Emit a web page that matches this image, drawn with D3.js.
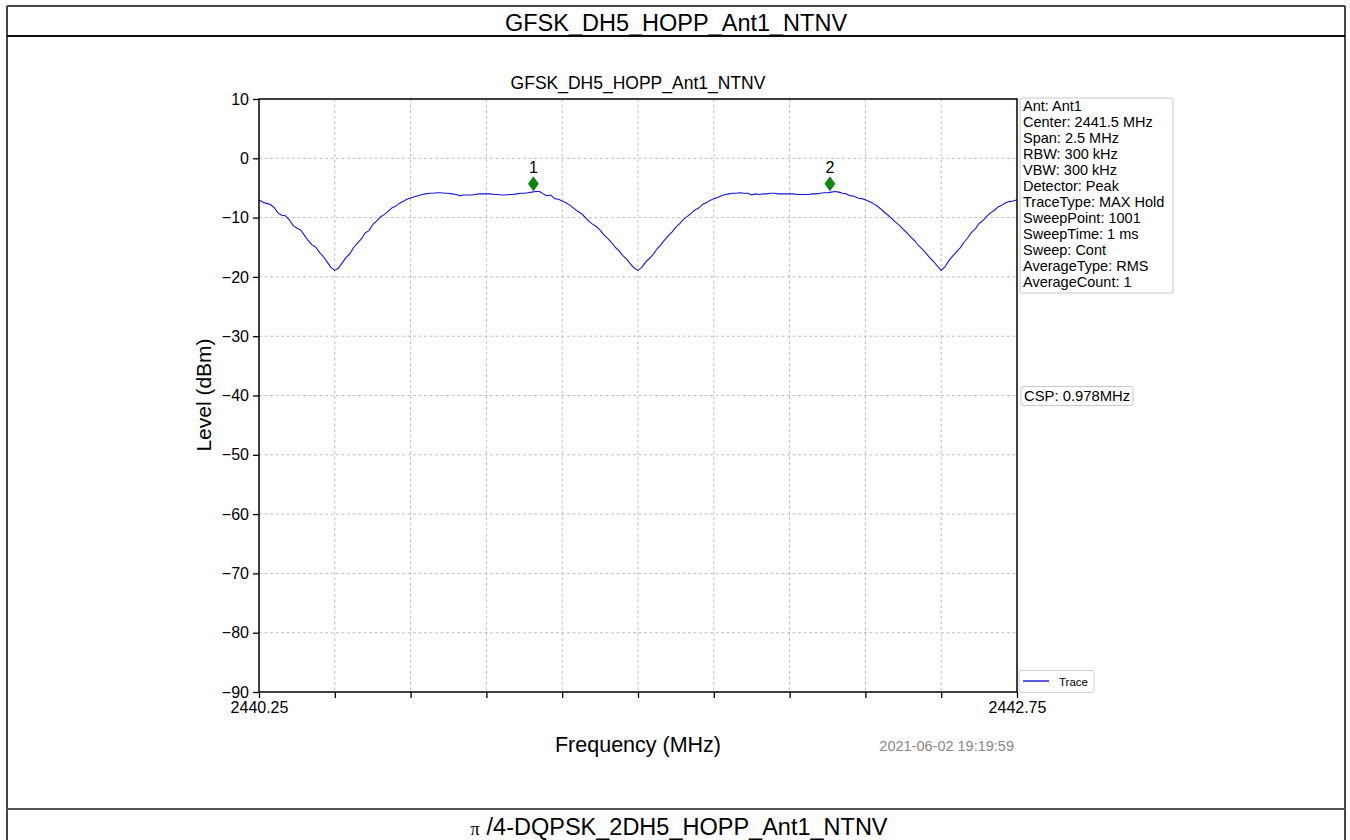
<!DOCTYPE html>
<html>
<head>
<meta charset="utf-8">
<script src="https://cdnjs.cloudflare.com/ajax/libs/d3/7.8.5/d3.min.js"></script>
<style>
  html, body { margin: 0; padding: 0; background: #fff; }
  svg { display: block; font-family: "Liberation Sans", Arial, sans-serif; }
</style>
</head>
<body>
<svg id="chart" width="1350" height="840"></svg>
<script>
// ---- data ----
const pageTitle = "GFSK_DH5_HOPP_Ant1_NTNV";
const nextTitlePrefix = "\u03C0";
const nextTitle = "/4-DQPSK_2DH5_HOPP_Ant1_NTNV";
const chartTitle = "GFSK_DH5_HOPP_Ant1_NTNV";
const freqStart = 2440.25;
const freqStep = 0.0125;
const traceLevels = [
  -7.0, -7.4, -7.6, -7.8, -8.3, -9.2, -9.6, -9.7, -10.4, -11.3,
  -11.8, -12.1, -13.0, -13.9, -14.6, -15.0, -15.9, -16.6, -17.5, -18.4,
  -18.9,
  -18.5, -17.6, -16.7, -16.1, -15.0, -14.3, -13.6, -12.6, -12.2, -11.2,
  -10.6, -9.9, -9.5, -9.0, -8.4, -8.1, -7.6, -7.3, -6.9, -6.7,
  -6.5, -6.3, -6.1, -6.0, -5.9, -5.9, -5.8, -5.8, -5.9, -5.9,
  -6.0, -6.1, -6.3, -6.2, -6.2, -6.2, -6.1, -6.0, -6.0, -6.0,
  -6.0, -6.1, -6.1, -6.2, -6.2, -6.1, -6.1, -6.0, -5.9, -5.9,
  -5.8, -5.7, -5.6, -5.6,
  -6.0, -6.3, -6.2, -6.8, -6.9, -7.2, -7.5, -7.9, -8.4, -8.9,
  -9.3, -9.9, -10.6, -11.1, -11.5, -12.1, -12.9, -13.5, -14.2, -15.0,
  -15.6, -16.4, -17.0, -17.8, -18.5, -18.9,
  -18.4, -17.5, -16.9, -16.2, -15.3, -14.6, -13.8, -13.1, -12.4, -11.6,
  -11.0, -10.3, -9.8, -9.3, -8.7, -8.4, -7.8, -7.5, -7.1, -6.8,
  -6.6, -6.3, -6.1, -6.0, -5.9, -5.9, -5.8, -5.9, -5.9, -6.2,
  -6.0, -6.1, -6.0, -6.0, -5.9, -5.9, -6.0, -6.0, -6.0, -6.0,
  -6.0, -6.1, -6.1, -6.1, -6.1, -6.0, -6.0, -5.9, -5.8, -5.8,
  -5.7, -5.6, -5.7, -5.9,
  -6.0, -6.3, -6.4, -6.7, -6.8, -7.0, -7.3, -7.6, -8.0, -8.5,
  -9.1, -9.6, -10.2, -10.8, -11.3, -12.0, -12.6, -13.3, -13.9, -14.7,
  -15.3, -16.0, -16.8, -17.4, -18.2, -18.9,
  -18.3, -17.3, -16.5, -15.8, -15.1, -14.2, -13.4, -12.5, -11.9, -11.0,
  -10.5, -9.8, -9.2, -8.8, -8.2, -7.9, -7.5, -7.3, -7.2, -7.0
];
const markerNames = ["1", "2"];
const markerFreqs = [2441.155, 2442.133];
const markerLevels = [-4.3, -4.3];
const xTicks = [2440.25, 2440.5, 2440.75, 2441.0, 2441.25, 2441.5, 2441.75, 2442.0, 2442.25, 2442.5, 2442.75];
const xTickLabels = ["2440.25", "", "", "", "", "", "", "", "", "", "2442.75"];
const yTicks = [10, 0, -10, -20, -30, -40, -50, -60, -70, -80, -90];
const infoLines = [
  "Ant: Ant1", "Center: 2441.5 MHz", "Span: 2.5 MHz", "RBW: 300 kHz", "VBW: 300 kHz",
  "Detector: Peak", "TraceType: MAX Hold", "SweepPoint: 1001", "SweepTime: 1 ms",
  "Sweep: Cont", "AverageType: RMS", "AverageCount: 1"
];
const cspText = "CSP: 0.978MHz";
const legendLabel = "Trace";
const timestamp = "2021-06-02 19:19:59";

// ---- drawing ----
const svg = d3.select("#chart");
const P = { left: 259, right: 1017, top: 99, bottom: 692 };

const x = d3.scaleLinear().domain([2440.25, 2442.75]).range([P.left, P.right]);
const y = d3.scaleLinear().domain([-90, 10]).range([P.bottom, P.top]);

// outer document frame
const frame = svg.append("g");
frame.append("line").attr("x1", 7).attr("x2", 1345).attr("y1", 6).attr("y2", 6).attr("stroke", "#444").attr("stroke-width", 2);
frame.append("line").attr("x1", 7).attr("x2", 7).attr("y1", 6).attr("y2", 840).attr("stroke", "#444").attr("stroke-width", 2);
frame.append("line").attr("x1", 1345).attr("x2", 1345).attr("y1", 6).attr("y2", 840).attr("stroke", "#444").attr("stroke-width", 2);
frame.append("line").attr("x1", 7).attr("x2", 1345).attr("y1", 36).attr("y2", 36).attr("stroke", "#111").attr("stroke-width", 2);
frame.append("line").attr("x1", 7).attr("x2", 1345).attr("y1", 809).attr("y2", 809).attr("stroke", "#555").attr("stroke-width", 2);

frame.append("text").attr("x", 676).attr("y", 31).attr("text-anchor", "middle")
  .attr("font-size", 23.5).attr("fill", "#000").text(pageTitle);
const bt = frame.append("text").attr("x", 679).attr("y", 835).attr("text-anchor", "middle")
  .attr("font-size", 23.5).attr("fill", "#000");
bt.append("tspan").attr("font-family", "Liberation Serif, serif").attr("font-size", 18).text(nextTitlePrefix);
bt.append("tspan").attr("dx", 7).text(nextTitle);

// grid
const grid = svg.append("g");
grid.selectAll("line.vx").data(xTicks.slice(1, -1)).enter().append("line")
  .attr("x1", d => x(d)).attr("x2", d => x(d)).attr("y1", P.top).attr("y2", P.bottom)
  .attr("stroke", "#b0b0b0").attr("stroke-width", 0.8).attr("stroke-dasharray", "3,2.5");
grid.selectAll("line.hy").data(yTicks.slice(1, -1)).enter().append("line")
  .attr("x1", P.left).attr("x2", P.right).attr("y1", d => y(d)).attr("y2", d => y(d))
  .attr("stroke", "#b0b0b0").attr("stroke-width", 0.8).attr("stroke-dasharray", "3,2.5");

// axes
const xAxis = d3.axisBottom(x).tickValues(xTicks).tickSize(6).tickPadding(4)
  .tickFormat((d, i) => xTickLabels[i]);
const gx = svg.append("g").attr("transform", `translate(0,${P.bottom})`).call(xAxis);
gx.select(".domain").remove();
gx.selectAll("line").attr("stroke", "#000").attr("stroke-width", 1.3);
gx.selectAll("text").attr("font-size", 16).attr("fill", "#000")
  .attr("font-family", "Liberation Sans, Arial, sans-serif").attr("dy", "0.71em");

const yAxis = d3.axisLeft(y).tickValues(yTicks).tickSize(6).tickPadding(4)
  .tickFormat(d => d < 0 ? "\u2212" + Math.abs(d) : String(d));
const gy = svg.append("g").attr("transform", `translate(${P.left},0)`).call(yAxis);
gy.select(".domain").remove();
gy.selectAll("line").attr("stroke", "#000").attr("stroke-width", 1.3);
gy.selectAll("text").attr("font-size", 16).attr("fill", "#000")
  .attr("font-family", "Liberation Sans, Arial, sans-serif");

// trace
const pts = traceLevels.map((v, i) => [freqStart + freqStep * i, v]);
const line = d3.line().x(d => x(d[0])).y(d => y(d[1]));
svg.append("path").datum(pts).attr("d", line).attr("fill", "none")
  .attr("stroke", "#1515e0").attr("stroke-width", 1.1).attr("stroke-linejoin", "round");

// plot frame
svg.append("rect").attr("x", P.left).attr("y", P.top).attr("width", P.right - P.left).attr("height", P.bottom - P.top)
  .attr("fill", "none").attr("stroke", "#000").attr("stroke-width", 1.5);

// markers
const mk = svg.append("g");
markerFreqs.forEach((f, i) => {
  const cx = x(f), cy = y(markerLevels[i]);
  mk.append("path").attr("d", `M${cx},${cy - 7}L${cx + 5},${cy}L${cx},${cy + 7}L${cx - 5},${cy}Z`)
    .attr("fill", "#0a8a0a").attr("stroke", "#066006").attr("stroke-width", 0.6);
  mk.append("text").attr("x", cx).attr("y", cy - 11).attr("text-anchor", "middle")
    .attr("font-size", 16).attr("fill", "#000").text(markerNames[i]);
});

// titles
svg.append("text").attr("x", 638).attr("y", 89).attr("text-anchor", "middle")
  .attr("font-size", 17.5).attr("fill", "#000").text(chartTitle);
svg.append("text").attr("transform", "translate(211,395) rotate(-90)").attr("text-anchor", "middle")
  .attr("font-size", 21).attr("fill", "#000").text("Level (dBm)");
svg.append("text").attr("x", 638).attr("y", 752).attr("text-anchor", "middle")
  .attr("font-size", 21.5).attr("fill", "#000").text("Frequency (MHz)");
svg.append("text").attr("x", 1014).attr("y", 751).attr("text-anchor", "end")
  .attr("font-size", 14.5).attr("fill", "#888").text(timestamp);

// info box
const ib = svg.append("g");
ib.append("rect").attr("x", 1020).attr("y", 98).attr("width", 153).attr("height", 195).attr("rx", 2)
  .attr("fill", "#fff").attr("stroke", "#c8c8c8").attr("stroke-width", 1);
ib.selectAll("text").data(infoLines).enter().append("text")
  .attr("x", 1023).attr("y", (d, i) => 111 + 16 * i)
  .attr("font-size", 14.5).attr("fill", "#000").text(d => d);

// CSP box
svg.append("rect").attr("x", 1021).attr("y", 386.5).attr("width", 112).attr("height", 19).attr("rx", 2)
  .attr("fill", "#fff").attr("stroke", "#c8c8c8").attr("stroke-width", 1);
svg.append("text").attr("x", 1024).attr("y", 400.5).attr("font-size", 14.8).attr("fill", "#000").text(cspText);

// legend
const lg = svg.append("g");
lg.append("rect").attr("x", 1019).attr("y", 670.5).attr("width", 75).attr("height", 22).attr("rx", 2)
  .attr("fill", "#fff").attr("stroke", "#d0d0d0").attr("stroke-width", 1);
lg.append("line").attr("x1", 1023).attr("x2", 1049).attr("y1", 681).attr("y2", 681)
  .attr("stroke", "#1515e0").attr("stroke-width", 1.4);
lg.append("text").attr("x", 1059).attr("y", 685.5).attr("font-size", 11.5).attr("fill", "#000").text(legendLabel);
</script>
</body>
</html>
